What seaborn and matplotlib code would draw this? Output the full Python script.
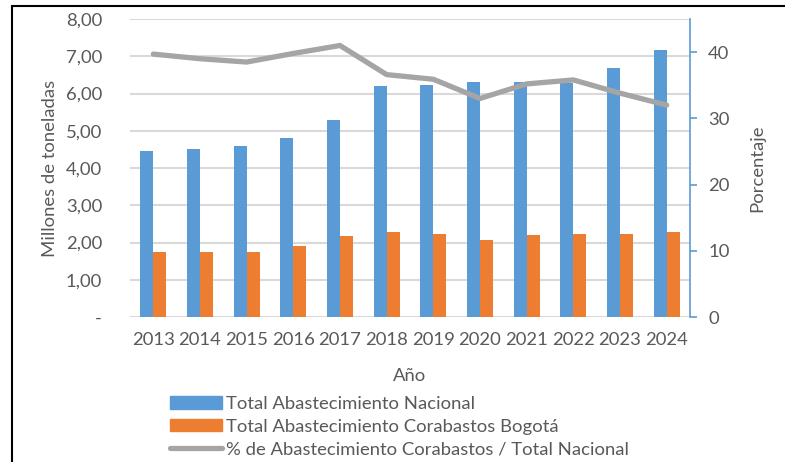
import numpy as np
import pandas as pd
import matplotlib
matplotlib.use("Agg")
import matplotlib.pyplot as plt
from matplotlib.patches import Patch, Rectangle
from matplotlib.lines import Line2D
from matplotlib.ticker import FuncFormatter
import seaborn as sns

years = ["2013", "2014", "2015", "2016", "2017", "2018",
         "2019", "2020", "2021", "2022", "2023", "2024"]
nacional = [4.46, 4.51, 4.59, 4.80, 5.29, 6.21, 6.23, 6.31, 6.31, 6.29, 6.69, 7.17]
corabastos = [1.75, 1.74, 1.75, 1.90, 2.17, 2.27, 2.23, 2.08, 2.21, 2.23, 2.24, 2.29]
porcentaje = [39.7, 39.0, 38.5, 39.8, 41.0, 36.6, 35.9, 33.0, 35.2, 35.8, 33.8, 32.0]

serie_nac = "Total Abastecimiento Nacional"
serie_cor = "Total Abastecimiento Corabastos Bogotá"
serie_pct = "% de Abastecimiento Corabastos / Total Nacional"

blue = "#5B9BD5"
orange = "#ED7D31"
gray = "#A5A5A5"
txt = "#595959"
grid = "#D9D9D9"
fs = 13.3

sns.set_style("white")
plt.rcParams["font.family"] = ["Lato", "DejaVu Sans"]
plt.rcParams["font.size"] = fs

df = pd.DataFrame({
    "anio": years * 2,
    "valor": nacional + corabastos,
    "serie": [serie_nac] * len(years) + [serie_cor] * len(years),
})

fig = plt.figure(figsize=(7.85, 4.62), dpi=100)
ax = fig.add_axes([130 / 785, 1 - 317 / 462, 560 / 785, 298 / 462])

sns.barplot(data=df, x="anio", y="valor", hue="serie",
            palette=[blue, orange], width=0.56, gap=0,
            saturation=1, linewidth=0, ax=ax, legend=False)

ax.set_ylim(0, 8)
ax.set_yticks(np.arange(0, 9, 1))
ax.yaxis.set_major_formatter(FuncFormatter(
    lambda v, p: "-" if v == 0 else f"{v:.2f}".replace(".", ",")))
ax.grid(axis="y", color=grid, linewidth=1.5)
ax.set_axisbelow(True)
for s in ax.spines.values():
    s.set_visible(False)
ax.tick_params(axis="both", length=0, colors=txt, labelsize=fs)
ax.tick_params(axis="y", pad=20)
ax.tick_params(axis="x", pad=11)
ax.set_xlabel("Año", color=txt, fontsize=fs, labelpad=14)
ax.set_ylabel("Millones de toneladas", color=txt, fontsize=fs, labelpad=6)

ax2 = ax.twinx()
sns.lineplot(x=np.arange(len(years)), y=porcentaje, color=gray,
             linewidth=3.8, ax=ax2, solid_capstyle="round")
ax2.set_ylim(0, 45)
ax2.set_yticks([0, 10, 20, 30, 40])
for s in ax2.spines.values():
    s.set_visible(False)
ax2.spines["right"].set_visible(True)
ax2.spines["right"].set_color(blue)
ax2.spines["right"].set_linewidth(1.2)
ax2.tick_params(axis="y", direction="out", length=5, color=blue,
                width=1.2, labelcolor=txt, labelsize=fs, pad=8)
ax2.set_ylabel("Porcentaje", color=txt, fontsize=fs, labelpad=14)
ax.set_xlim(-0.5, len(years) - 0.5)

handles = [Patch(color=blue), Patch(color=orange),
           Line2D([], [], color=gray, linewidth=3.8, solid_capstyle="round")]
fig.legend(handles, [serie_nac, serie_cor, serie_pct],
           loc="upper left", bbox_to_anchor=(170 / 785, 1 - 396 / 462),
           frameon=False, handlelength=2.8, handleheight=0.65,
           handletextpad=0.25, labelspacing=0.36, borderaxespad=0,
           borderpad=0, labelcolor=txt, fontsize=fs)

fig.patches.append(Rectangle((12 / 785, -0.1), 1.2, 1.1 - 6 / 462,
                             transform=fig.transFigure, fill=False,
                             edgecolor="black", linewidth=1.5))

fig.savefig("out.png", dpi=100)
